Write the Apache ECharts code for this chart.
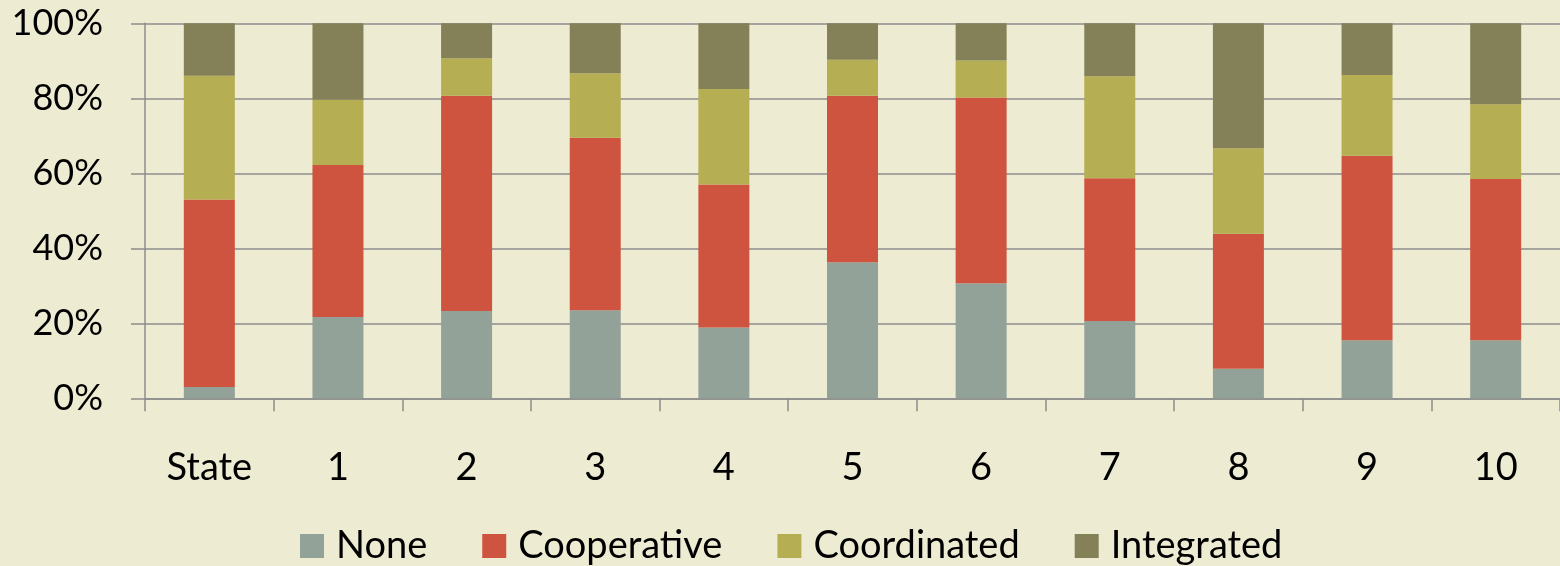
<!DOCTYPE html>
<html>
<head>
<meta charset="utf-8">
<script src="https://cdn.jsdelivr.net/npm/echarts@6/dist/echarts.min.js"></script>
<style>
html,body{margin:0;padding:0;background:#EDECD3;}
#c{width:1560px;height:566px;}
</style>
</head>
<body>
<div id="c"></div>
<script>
const categories = ['State','1','2','3','4','5','6','7','8','9','10'];
const none        = [3.0, 21.7, 23.3, 23.5, 18.9, 36.3, 30.7, 20.6, 7.9, 15.5, 15.5];
const cooperative = [50.0, 40.5, 57.4, 46.0, 38.1, 44.4, 49.5, 38.1, 36.0, 49.2, 43.0];
const coordinated = [33.0, 17.4, 10.0, 17.2, 25.5, 9.6, 9.9, 27.2, 22.8, 21.5, 19.9];
const integrated  = [14.0, 20.4, 9.3, 13.3, 17.5, 9.7, 9.9, 14.1, 33.3, 13.8, 21.6];
const seriesNames = ['None','Cooperative','Coordinated','Integrated'];
const colors = ['#93A299','#CF543F','#B5AE53','#848058'];

const FONT = 'Lato';
const chart = echarts.init(document.getElementById('c'));
const dataSets = [none, cooperative, coordinated, integrated];
chart.setOption({
  backgroundColor: '#EDECD3',
  animation: false,
  color: colors,
  grid: {left: 145, top: 23.3, width: 1418, height: 375, containLabel: false},
  legend: {
    left: 295, top: 522,
    itemWidth: 24, itemHeight: 24, itemGap: 55,
    icon: 'rect',
    textStyle: {fontFamily: FONT, fontSize: 38, color: '#000', padding: [0,0,0,7]},
    data: seriesNames
  },
  xAxis: {
    type: 'category',
    data: categories,
    axisLine: {lineStyle: {color: '#8c8c8c', width: 1.5}},
    axisTick: {show: true, length: 13, alignWithLabel: false, lineStyle: {color: '#8c8c8c', width: 1.5}},
    axisLabel: {fontFamily: FONT, fontSize: 38, color: '#000', margin: 50, interval: 0}
  },
  yAxis: {
    type: 'value', min: 0, max: 100, interval: 20,
    axisLine: {show: true, lineStyle: {color: '#8c8c8c', width: 1.5}},
    axisTick: {show: true, length: 14, lineStyle: {color: '#8c8c8c', width: 1.5}},
    splitLine: {lineStyle: {color: '#8c8c8c', width: 1.5}},
    axisLabel: {fontFamily: FONT, fontSize: 36, color: '#000', margin: 42, formatter: '{value}%'}
  },
  series: seriesNames.map((n, i) => ({
    name: n, type: 'bar', stack: 'total', barWidth: 51,
    data: dataSets[i],
    itemStyle: {color: colors[i]}
  }))
});
</script>
</body>
</html>
